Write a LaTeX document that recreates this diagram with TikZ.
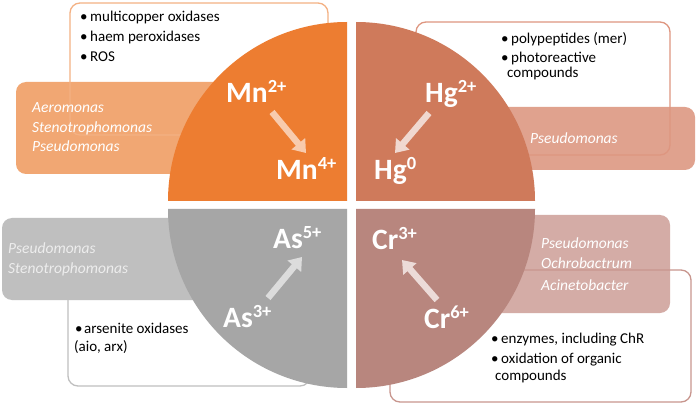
\documentclass[tikz,border=0pt]{standalone}
\usepackage{fontspec}
\setmainfont{Carlito}
\usetikzlibrary{arrows.meta}
\definecolor{mnQ}{RGB}{237,125,49}
\definecolor{hgQ}{RGB}{207,122,91}
\definecolor{asQ}{RGB}{166,166,166}
\definecolor{crQ}{RGB}{184,134,126}
\definecolor{mnBox}{RGB}{241,167,115}
\definecolor{hgBox}{RGB}{224,162,142}
\definecolor{asBox}{RGB}{191,191,191}
\definecolor{crBox}{RGB}{212,172,166}
\definecolor{mnLine}{RGB}{244,177,131}
\definecolor{hgLine}{RGB}{222,150,128}
\definecolor{asLine}{RGB}{191,191,191}
\definecolor{crLine}{RGB}{200,150,142}
\definecolor{mnArr}{RGB}{248,203,173}
\definecolor{hgArr}{RGB}{240,216,208}
\definecolor{asArr}{RGB}{220,220,220}
\definecolor{crArr}{RGB}{236,219,216}
\newcommand{\ionsup}[1]{\raisebox{10pt}{\fontsize{18.5}{18.5}\selectfont #1}}
\begin{document}
\begin{tikzpicture}[x=1pt,y=1pt,
  ion/.style={anchor=base west, inner sep=0pt, text=white, font=\fontsize{29.5}{29.5}\selectfont\bfseries},
  bact/.style={anchor=base west, inner sep=0pt, font=\fontsize{15.5}{15.5}\selectfont\itshape},
  item/.style={anchor=base west, inner sep=0pt, font=\fontsize{15}{15}\selectfont, text=black},
  obox/.style={rounded corners=10pt, line width=1.3pt},
  fbox/.style={rounded corners=10pt},
  conv/.style={line width=6.5pt, -{Triangle[width=17pt,length=12pt]}}
]
\path[use as bounding box, fill=white] (0,0) rectangle (696,-406);

% --- filled bacteria boxes
\fill[fbox, mnBox] (16,-82) rectangle (340,-174);
\fill[fbox, hgBox] (400,-107) rectangle (695,-170);
\fill[fbox, asBox] (2,-218) rectangle (340,-300);
\fill[fbox, crBox] (370,-215) rectangle (670,-313);

% --- outlined mechanism boxes
\draw[obox, mnLine] (70,-3) rectangle (328,-135);
\draw[obox, hgLine] (416,-22) rectangle (670,-155);
\draw[obox, asLine] (68,-290) rectangle (310,-386);
\draw[obox, crLine] (390,-270) rectangle (691,-402);

% --- quadrants
\fill[mnQ] (347,-201) -- (168,-201) arc[start angle=180, end angle=90, radius=179] -- cycle;
\fill[hgQ] (356,-201) -- (356,-22) arc[start angle=90, end angle=0, radius=179] -- cycle;
\fill[asQ] (347,-209) -- (168,-209) arc[start angle=180, end angle=270, radius=179] -- cycle;
\fill[crQ] (356,-209) -- (535,-209) arc[start angle=0, end angle=-90, radius=179] -- cycle;

% --- ion labels
\node[ion] (mn2) at (226,-103) {Mn\ionsup{2+}};
\node[ion] (mn4) at (276,-180) {Mn\ionsup{4+}};
\node[ion] (hg2) at (425,-103) {Hg\ionsup{2+}};
\node[ion] (hg0) at (374,-180) {Hg\ionsup{0}};
\node[ion] (as5) at (273,-248) {As\ionsup{5+}};
\node[ion] (as3) at (223,-327) {As\ionsup{3+}};
\node[ion] (cr3) at (372,-250) {Cr\ionsup{3+}};
\node[ion] (cr6) at (424,-328) {Cr\ionsup{6+}};

% --- conversion arrows
\coordinate (mnA) at (272,-112); \coordinate (mnB) at (306,-153);
\coordinate (hgA) at (429,-113); \coordinate (hgB) at (395,-153);
\coordinate (asA) at (268,-298); \coordinate (asB) at (302,-257);
\coordinate (crA) at (437,-300); \coordinate (crB) at (402,-260);
\draw[conv, mnArr] (mnA) -- (mnB);
\draw[conv, hgArr] (hgA) -- (hgB);
\draw[conv, asArr] (asA) -- (asB);
\draw[conv, crArr] (crA) -- (crB);

% --- bacteria names
\node[bact, text=white] (b1) at (32,-112.7) {Aeromonas};
\node[bact, text=white] (b2) at (32,-132.5) {Stenotrophomonas};
\node[bact, text=white] (b3) at (32,-152) {Pseudomonas};
\node[bact, text=white] (b4) at (530,-143.3) {Pseudomonas};
\node[bact, text=white!93!black] (b5) at (8,-253) {Pseudomonas};
\node[bact, text=white!93!black] (b6) at (8,-273) {Stenotrophomonas};
\node[bact, text=white] (b7) at (541,-248) {Pseudomonas};
\node[bact, text=white] (b8) at (541,-269) {Ochrobactrum};
\node[bact, text=white] (b9) at (541,-290) {Acinetobacter};

% --- mechanism lists
\node[item] (m1) at (80,-21.7) {\makebox[10pt][l]{•}multicopper oxidases};
\node[item] (m2) at (80,-41.7) {\makebox[10pt][l]{•}haem peroxidases};
\node[item] (m3) at (80,-61.7) {\makebox[10pt][l]{•}ROS};
\node[item] (h1) at (501,-43.3) {\makebox[10pt][l]{•}polypeptides (mer)};
\node[item] (h2) at (501,-62.7) {\makebox[10pt][l]{•}photoreactive};
\node[item] (h3) at (507,-77.7) {compounds};
\node[item] (a1) at (75,-333) {\makebox[9pt][l]{•}arsenite oxidases};
\node[item] (a2) at (74,-351) {(aio, arx)};
\node[item] (c1) at (491,-343) {\makebox[10pt][l]{•}enzymes, including ChR};
\node[item] (c2) at (491,-363) {\makebox[10pt][l]{•}oxidation of organic};
\node[item] (c3) at (495,-380) {compounds};
\end{tikzpicture}
\end{document}
